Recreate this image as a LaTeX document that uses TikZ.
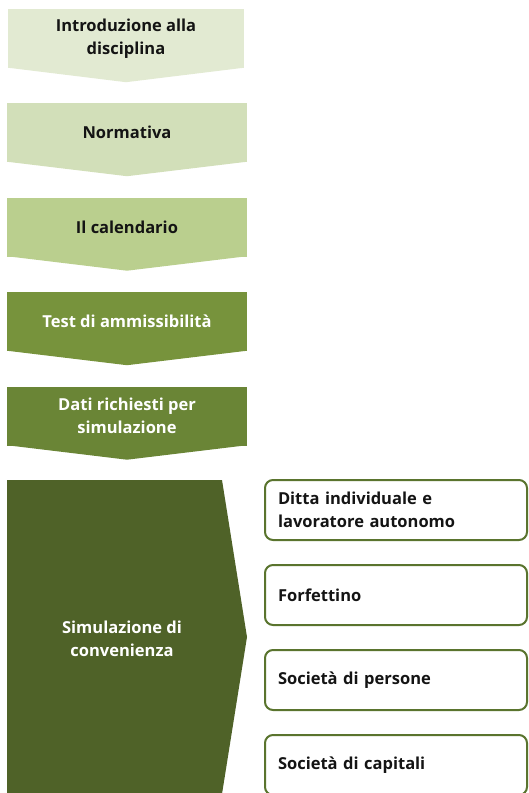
\documentclass[tikz,border=0pt]{standalone}
\usepackage{fontspec}
\setmainfont{Open Sans}
\usepackage{tikz}
\usetikzlibrary{calc}
\definecolor{verdeUno}{RGB}{226,234,210}
\definecolor{verdeDue}{RGB}{210,223,185}
\definecolor{verdeTre}{RGB}{186,207,142}
\definecolor{verdeQuattro}{RGB}{119,147,60}
\definecolor{verdeCinque}{RGB}{106,133,54}
\definecolor{verdeScuro}{RGB}{79,98,40}
\definecolor{bordoBox}{RGB}{90,116,46}
\definecolor{testoScuro}{RGB}{20,20,20}

\begin{document}
\begin{tikzpicture}[
  x=1pt, y=-1pt,
  fase/.style={rectangle, inner sep=0pt, minimum width=240pt, minimum height=59pt,
               align=center, font=\fontsize{16.5}{22.5}\selectfont\bfseries},
  chiara/.style={fase, fill=#1, text=testoScuro},
  scura/.style={fase, fill=#1, text=white},
  forma/.style={rectangle, rounded corners=8pt, draw=bordoBox, line width=2pt, fill=white,
                minimum width=262pt, minimum height=60pt, text width=236pt, align=left,
                inner xsep=13pt, font=\fontsize{16.5}{23}\selectfont\bfseries, text=testoScuro}
]
  \useasboundingbox (0,0) rectangle (529,793);

  % Fasi (colonna sinistra)
  \node[chiara=verdeUno, minimum width=236pt] (intro) at (126,38.5) {Introduzione alla\\disciplina};
  \node[chiara=verdeDue] (norm) at (127,132.5) {Normativa};
  \node[chiara=verdeTre] (cal) at (127,227) {Il calendario};
  \node[scura=verdeQuattro] (test) at (127,321.5) {Test di ammissibilità};
  \node[scura=verdeCinque] (dati) at (127,416) {Dati richiesti per\\simulazione};

  % Punte delle frecce
  \fill[verdeUno] ($(intro.south west)+(0,-0.5)$) -- ($(intro.south east)+(0,-0.5)$) -- ($(intro.south)+(0,14)$) -- cycle;
  \fill[verdeDue] ($(norm.south west)+(0,-0.5)$) -- ($(norm.south east)+(0,-0.5)$) -- ($(norm.south)+(0,14)$) -- cycle;
  \fill[verdeTre] ($(cal.south west)+(0,-0.5)$) -- ($(cal.south east)+(0,-0.5)$) -- ($(cal.south)+(0,14)$) -- cycle;
  \fill[verdeQuattro] ($(test.south west)+(0,-0.5)$) -- ($(test.south east)+(0,-0.5)$) -- ($(test.south)+(0,14)$) -- cycle;
  \fill[verdeCinque] ($(dati.south west)+(0,-0.5)$) -- ($(dati.south east)+(0,-0.5)$) -- ($(dati.south)+(0,14)$) -- cycle;

  % Simulazione (blocco grande)
  \fill[verdeScuro] (7,480) -- (222,480) -- (247,637) -- (222,794) -- (7,794) -- cycle;
  \node[fase, text=white, minimum width=0pt, minimum height=0pt] (sim) at (122,639) {Simulazione di\\convenienza};

  % Forme giuridiche (colonna destra)
  \node[forma] (ditta) at (396,510) {Ditta individuale e\\lavoratore autonomo};
  \node[forma] (forf) at (396,595) {Forfettino};
  \node[forma] (sdp) at (396,680) {Società di persone};
  \node[forma] (sdc) at (396,765) {Società di capitali};
\end{tikzpicture}
\end{document}
